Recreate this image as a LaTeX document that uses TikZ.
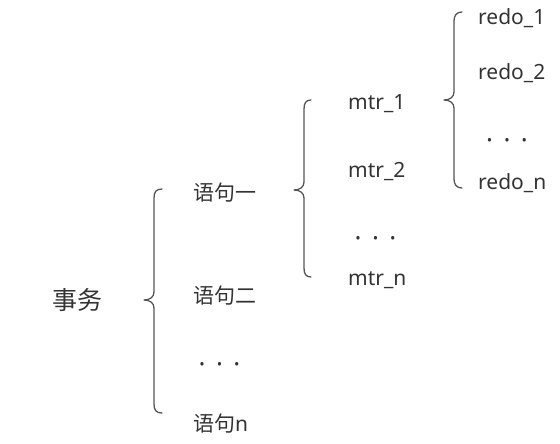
\documentclass[tikz,border=0pt]{standalone}
\usepackage{fontspec}
\setmainfont{Noto Sans}
\newfontfamily\cjk{Noto Sans CJK SC}
\definecolor{txt}{HTML}{333333}
\definecolor{brc}{HTML}{555555}
\tikzset{
  lbl/.style={anchor=base west, inner sep=0pt, text=txt, font=\fontsize{21}{25}\selectfont},
  cn/.style={anchor=base west, inner sep=0pt, text=txt, font=\fontsize{21}{25}\selectfont\cjk},
  big/.style={anchor=base west, inner sep=0pt, text=txt, font=\fontsize{25}{30}\selectfont\cjk},
  dots/.style={anchor=center, inner sep=0pt, text=txt, font=\fontsize{20}{24}\selectfont, yshift=-5pt},
  bracepath/.style={draw=brc, line width=1.3pt, line cap=round, line join=round},
}
\newcommand{\onedot}{\scalebox{0.72}{\textbullet}}
\newcommand{\mydots}{\onedot\hspace{12pt}\onedot\hspace{12pt}\onedot}
\begin{document}
\begin{tikzpicture}[x=1pt,y=-1pt]
\useasboundingbox (0,0) rectangle (560,444);
% texts
\node[big] (tx) at (52,309) {事务};
\node[cn] (s1) at (193,200) {语句一};
\node[cn] (s2) at (193,303) {语句二};
\node[dots] (d1) at (219.5,361) {\mydots};
\node[cn] (sn) at (193,431) {语句\fontspec{Noto Sans}n};
\node[lbl] (m1) at (348,110) {mtr\_1};
\node[lbl] (m2) at (348,177) {mtr\_2};
\node[dots] (d2) at (375.5,235) {\mydots};
\node[lbl] (mn) at (348,285) {mtr\_n};
\node[lbl] (r1) at (478,25) {redo\_1};
\node[lbl] (r2) at (478,80) {redo\_2};
\node[dots] (d3) at (507,137) {\mydots};
\node[lbl] (rn) at (478,189) {redo\_n};
% braces
\draw[bracepath] (162,189) .. controls (156,189) and (154,192) .. (154,198) -- (154,292)
  .. controls (154,297) and (150,300) .. (144,300)
  .. controls (150,300) and (154,303) .. (154,308) -- (154,404)
  .. controls (154,410) and (156,413) .. (162,413);
\draw[bracepath] (311,100) .. controls (306,100) and (304,103) .. (304,109) -- (304,182)
  .. controls (304,187) and (300,190) .. (294,190)
  .. controls (300,190) and (304,193) .. (304,198) -- (304,268)
  .. controls (304,274) and (306,277) .. (311,277);
\draw[bracepath] (462,12) .. controls (457,12) and (454,15) .. (454,21) -- (454,92)
  .. controls (454,97) and (450,100) .. (444,100)
  .. controls (450,100) and (454,103) .. (454,108) -- (454,179)
  .. controls (454,185) and (457,188) .. (462,188);
\end{tikzpicture}
\end{document}
